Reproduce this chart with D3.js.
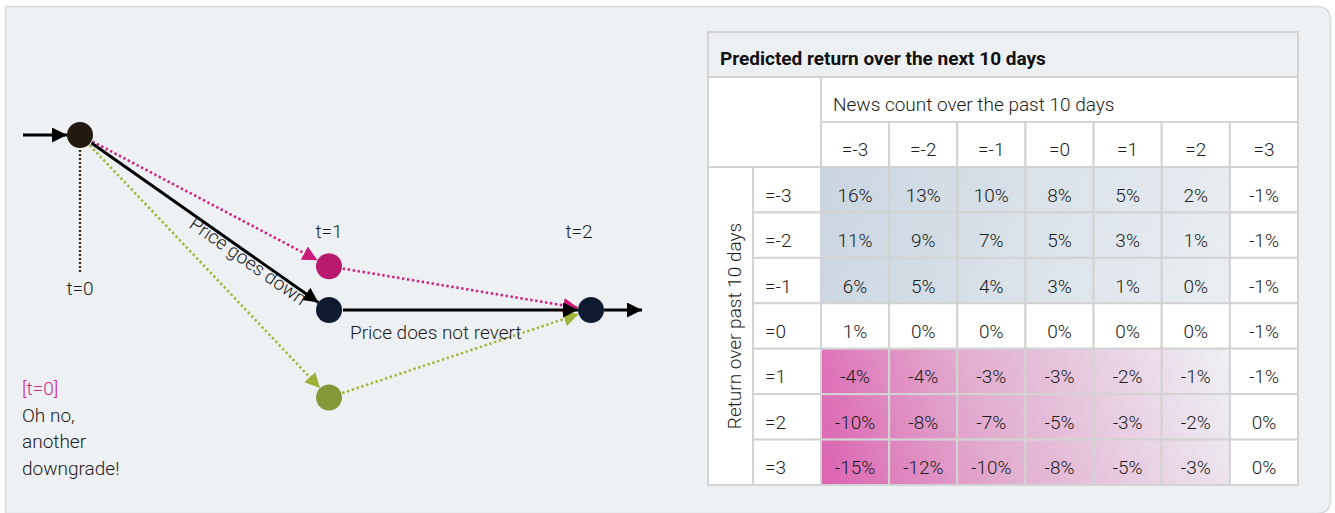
<!DOCTYPE html>
<html>
<head>
<meta charset="utf-8">
<script src="https://cdn.jsdelivr.net/npm/d3@7"></script>
<style>
  body { margin: 0; background: #fff; }
  svg { display: block; font-family: Roboto, "Open Sans", sans-serif; }
</style>
</head>
<body>
<svg id="chart" width="1335" height="513"></svg>
<script>
// ---- table data ----
const tableTitle = "Predicted return over the next 10 days";
const colTitle = "News count over the past 10 days";
const rowTitle = "Return over past 10 days";
const colLabels = ["=-3", "=-2", "=-1", "=0", "=1", "=2", "=3"];
const rowLabels = ["=-3", "=-2", "=-1", "=0", "=1", "=2", "=3"];
const returns = [
  [16, 13, 10, 8, 5, 2, -1],
  [11, 9, 7, 5, 3, 1, -1],
  [6, 5, 4, 3, 1, 0, -1],
  [1, 0, 0, 0, 0, 0, -1],
  [-4, -4, -3, -3, -2, -1, -1],
  [-10, -8, -7, -5, -3, -2, 0],
  [-15, -12, -10, -8, -5, -3, 0]
];
// which cells carry the shading
const upRows = ["=-3", "=-2", "=-1"];
const downRows = ["=1", "=2", "=3"];
const shadedCols = ["=-3", "=-2", "=-1", "=0", "=1", "=2"];

// ---- diagram data ----
const steps = [0, 1, 2];
const stepLabels = ["t=0", "t=1", "t=2"];
// price level of each node (0 = start, -1 = one step down)
const nodes = [
  { id: "start", step: 0, level: 0, color: "#231a0f" },
  { id: "bounce", step: 1, level: -0.75, color: "#b81b6e" },
  { id: "down", step: 1, level: -1, color: "#0e1b31" },
  { id: "deeper", step: 1, level: -1.5, color: "#85993a" },
  { id: "end", step: 2, level: -1, color: "#0e1b31" }
];
const links = [
  { source: "start", target: "bounce", kind: "pink" },
  { source: "start", target: "deeper", kind: "green" },
  { source: "start", target: "down", kind: "black", label: "Price goes down" },
  { source: "bounce", target: "end", kind: "pink" },
  { source: "deeper", target: "end", kind: "green" },
  { source: "down", target: "end", kind: "black", label: "Price does not revert" }
];
const noteLines = ["[t=0]", "Oh no,", "another", "downgrade!"];

const svg = d3.select("#chart");
const W = 1335, H = 513;
const ink = "#1c1c1c";

// card
svg.append("path")
  .attr("d", `M5.5,6.5 H${W - 18} Q${W - 4.5},6.5 ${W - 4.5},20 V${H - 14} Q${W - 4.5},${H + 0.5} ${W - 18},${H + 0.5} H5.5 Z`)
  .attr("fill", "#edf1f4")
  .attr("stroke", "#d5d9dc")
  .attr("stroke-width", 1.5);

// ================= diagram =================
const x = d3.scaleLinear().domain(steps).range([80, 329, 591]);
const y = d3.scaleLinear().domain([0, -1]).range([135, 310]);
const R = 13;
const byId = new Map(nodes.map(d => [d.id, d]));

const kindStyle = {
  black: { stroke: "#000", width: 3, dash: null, head: "#000", size: 15 },
  pink: { stroke: "#d0237f", width: 2.6, dash: "2.4,2.6", head: "#c81d78", size: 15 },
  green: { stroke: "#a3b83a", width: 2.6, dash: "2.4,2.6", head: "#9db236", size: 15 }
};

const defs = svg.append("defs");
Object.entries(kindStyle).forEach(([k, s]) => {
  defs.append("marker")
    .attr("id", "head-" + k)
    .attr("viewBox", "0 0 14 14")
    .attr("refX", 14).attr("refY", 7)
    .attr("markerUnits", "userSpaceOnUse")
    .attr("markerWidth", s.size).attr("markerHeight", s.size)
    .attr("orient", "auto")
    .append("path")
    .attr("d", "M0,0 L14,7 L0,14 Z")
    .attr("fill", s.head);
});

const diagram = svg.append("g");

// time markers
diagram.append("line")
  .attr("x1", x(0)).attr("x2", x(0))
  .attr("y1", y(0) + R + 2).attr("y2", y(0) + 137)
  .attr("stroke", "#3b2c16").attr("stroke-width", 2.4)
  .attr("stroke-dasharray", "2,2");

const labelPos = [[x(0), 295], [x(1), 238], [x(2) - 12, 238]];
diagram.selectAll("text.step")
  .data(stepLabels)
  .join("text")
  .attr("class", "step")
  .attr("x", (d, i) => labelPos[i][0])
  .attr("y", (d, i) => labelPos[i][1])
  .attr("text-anchor", "middle")
  .attr("font-size", 19).attr("font-weight", 300)
  .attr("fill", ink)
  .text(d => d);

// in / out arrows
const start = byId.get("start"), end = byId.get("end");
diagram.append("line")
  .attr("x1", x(start.step) - 57).attr("x2", x(start.step) - R)
  .attr("y1", y(start.level)).attr("y2", y(start.level))
  .attr("stroke", "#000").attr("stroke-width", 3)
  .attr("marker-end", "url(#head-black)");
diagram.append("line")
  .attr("x1", x(end.step) + R).attr("x2", x(end.step) + 51)
  .attr("y1", y(end.level)).attr("y2", y(end.level))
  .attr("stroke", "#000").attr("stroke-width", 3)
  .attr("marker-end", "url(#head-black)");

// links, shortened to the node edge
links.forEach(l => {
  const s = byId.get(l.source), t = byId.get(l.target);
  const x1 = x(s.step), y1 = y(s.level), x2 = x(t.step), y2 = y(t.level);
  const len = Math.hypot(x2 - x1, y2 - y1);
  const ux = (x2 - x1) / len, uy = (y2 - y1) / len;
  const st = kindStyle[l.kind];
  diagram.append("line")
    .attr("x1", x1 + ux * (R + 1)).attr("y1", y1 + uy * (R + 1))
    .attr("x2", x2 - ux * R).attr("y2", y2 - uy * R)
    .attr("stroke", st.stroke).attr("stroke-width", st.width)
    .attr("stroke-dasharray", st.dash)
    .attr("marker-end", `url(#head-${l.kind})`);
  l.geom = { x1, y1, x2, y2, len, angle: Math.atan2(y2 - y1, x2 - x1) * 180 / Math.PI };
});

// link labels
const goesDown = links.find(l => l.label === "Price goes down").geom;
diagram.append("text")
  .attr("transform", `translate(${goesDown.x1 + (goesDown.x2 - goesDown.x1) * 0.69},${goesDown.y1 + (goesDown.y2 - goesDown.y1) * 0.69}) rotate(${goesDown.angle})`)
  .attr("y", 13)
  .attr("text-anchor", "middle")
  .attr("font-size", 19).attr("font-weight", 300)
  .attr("fill", ink)
  .text("Price goes down");

const flat = links.find(l => l.label === "Price does not revert").geom;
diagram.append("text")
  .attr("x", flat.x1 + 21).attr("y", flat.y1 + 29)
  .attr("font-size", 19).attr("font-weight", 300)
  .attr("fill", ink)
  .text("Price does not revert");

// nodes
diagram.selectAll("circle.node")
  .data(nodes)
  .join("circle")
  .attr("class", "node")
  .attr("cx", d => x(d.step))
  .attr("cy", d => y(d.level))
  .attr("r", R)
  .attr("fill", d => d.color);

// note
diagram.selectAll("text.note")
  .data(noteLines)
  .join("text")
  .attr("class", "note")
  .attr("x", 22)
  .attr("y", (d, i) => 395 + i * 26.5)
  .attr("font-size", 19).attr("font-weight", 300)
  .attr("fill", (d, i) => i === 0 ? "#d02a8a" : ink)
  .text(d => d);

// ================= table =================
const T = { left: 708, right: 1298, top: 32, titleH: 45, headH: 45, labelW0: 45, labelW1: 68, bottom: 485 };
const dataTop = T.top + T.titleH + 2 * T.headH;
const dataLeft = T.left + T.labelW0 + T.labelW1;
const cx = d3.scaleBand().domain(colLabels).range([dataLeft, T.right]);
const cy = d3.scaleBand().domain(rowLabels).range([dataTop, T.bottom]);
const gridStroke = "#d3d3d3";

const table = svg.append("g");

// gradients spanning each shaded block
function blockGradient(id, rows, from, to, stops) {
  const x0 = cx(shadedCols[0]), x1 = cx(shadedCols[shadedCols.length - 1]) + cx.bandwidth();
  const y0 = cy(rows[0]), y1 = cy(rows[rows.length - 1]) + cy.bandwidth();
  const pt = { tl: [x0, y0], tr: [x1, y0], bl: [x0, y1], br: [x1, y1] };
  const g = defs.append("linearGradient")
    .attr("id", id)
    .attr("gradientUnits", "userSpaceOnUse")
    .attr("x1", pt[from][0]).attr("y1", pt[from][1])
    .attr("x2", pt[to][0]).attr("y2", pt[to][1]);
  stops.forEach(([o, c]) => g.append("stop").attr("offset", o).attr("stop-color", c));
}
blockGradient("grad-up", upRows, "tl", "br", [[0, "#c9d5e0"], [1, "#eaeef2"]]);
blockGradient("grad-down", downRows, "bl", "tr", [[0, "#db62b1"], [0.4, "#e2acce"], [1, "#eef0f4"]]);

function cellFill(row, col) {
  if (!shadedCols.includes(col)) return "#fff";
  if (upRows.includes(row)) return "url(#grad-up)";
  if (downRows.includes(row)) return "url(#grad-down)";
  return "#fff";
}

function box(x0, y0, w, h, fill) {
  table.append("rect")
    .attr("x", x0).attr("y", y0).attr("width", w).attr("height", h)
    .attr("fill", fill).attr("stroke", gridStroke).attr("stroke-width", 2);
}

// title
box(T.left, T.top, T.right - T.left, T.titleH, "#edf0f3");
table.append("text")
  .attr("x", T.left + 12).attr("y", T.top + 33)
  .attr("font-size", 19).attr("font-weight", 700)
  .attr("fill", "#111")
  .text(tableTitle);

// header block
box(T.left, T.top + T.titleH, T.labelW0 + T.labelW1, 2 * T.headH, "#fff");
box(dataLeft, T.top + T.titleH, T.right - dataLeft, T.headH, "#fff");
table.append("text")
  .attr("x", dataLeft + 12).attr("y", T.top + T.titleH + 34)
  .attr("font-size", 19).attr("font-weight", 300)
  .attr("fill", ink)
  .text(colTitle);

colLabels.forEach(c => {
  box(cx(c), T.top + T.titleH + T.headH, cx.bandwidth(), T.headH, "#fff");
});
table.selectAll("text.col")
  .data(colLabels)
  .join("text")
  .attr("class", "col")
  .attr("x", d => cx(d) + cx.bandwidth() / 2)
  .attr("y", T.top + T.titleH + T.headH + 34)
  .attr("text-anchor", "middle")
  .attr("font-size", 19).attr("font-weight", 300)
  .attr("fill", ink)
  .text(d => d);

// row title
box(T.left, dataTop, T.labelW0, T.bottom - dataTop, "#fff");
table.append("text")
  .attr("transform", `translate(${T.left + 33},${(dataTop + T.bottom) / 2}) rotate(-90)`)
  .attr("text-anchor", "middle")
  .attr("font-size", 19).attr("font-weight", 300)
  .attr("fill", ink)
  .text(rowTitle);

// row labels
rowLabels.forEach(r => box(T.left + T.labelW0, cy(r), T.labelW1, cy.bandwidth(), "#fff"));
table.selectAll("text.row")
  .data(rowLabels)
  .join("text")
  .attr("class", "row")
  .attr("x", T.left + T.labelW0 + 12)
  .attr("y", d => cy(d) + cy.bandwidth() / 2 + 12)
  .attr("font-size", 19).attr("font-weight", 300)
  .attr("fill", ink)
  .text(d => d);

// data cells
const cells = rowLabels.flatMap((r, i) => colLabels.map((c, j) => ({ row: r, col: c, value: returns[i][j] })));
table.selectAll("rect.cell")
  .data(cells)
  .join("rect")
  .attr("class", "cell")
  .attr("x", d => cx(d.col)).attr("y", d => cy(d.row))
  .attr("width", cx.bandwidth()).attr("height", cy.bandwidth())
  .attr("fill", d => cellFill(d.row, d.col))
  .attr("stroke", gridStroke).attr("stroke-width", 2);
table.selectAll("text.cell")
  .data(cells)
  .join("text")
  .attr("class", "cell")
  .attr("x", d => cx(d.col) + cx.bandwidth() / 2)
  .attr("y", d => cy(d.row) + cy.bandwidth() / 2 + 12)
  .attr("text-anchor", "middle")
  .attr("font-size", 19).attr("font-weight", 300)
  .attr("fill", ink)
  .text(d => d.value + "%");
</script>
</body>
</html>
